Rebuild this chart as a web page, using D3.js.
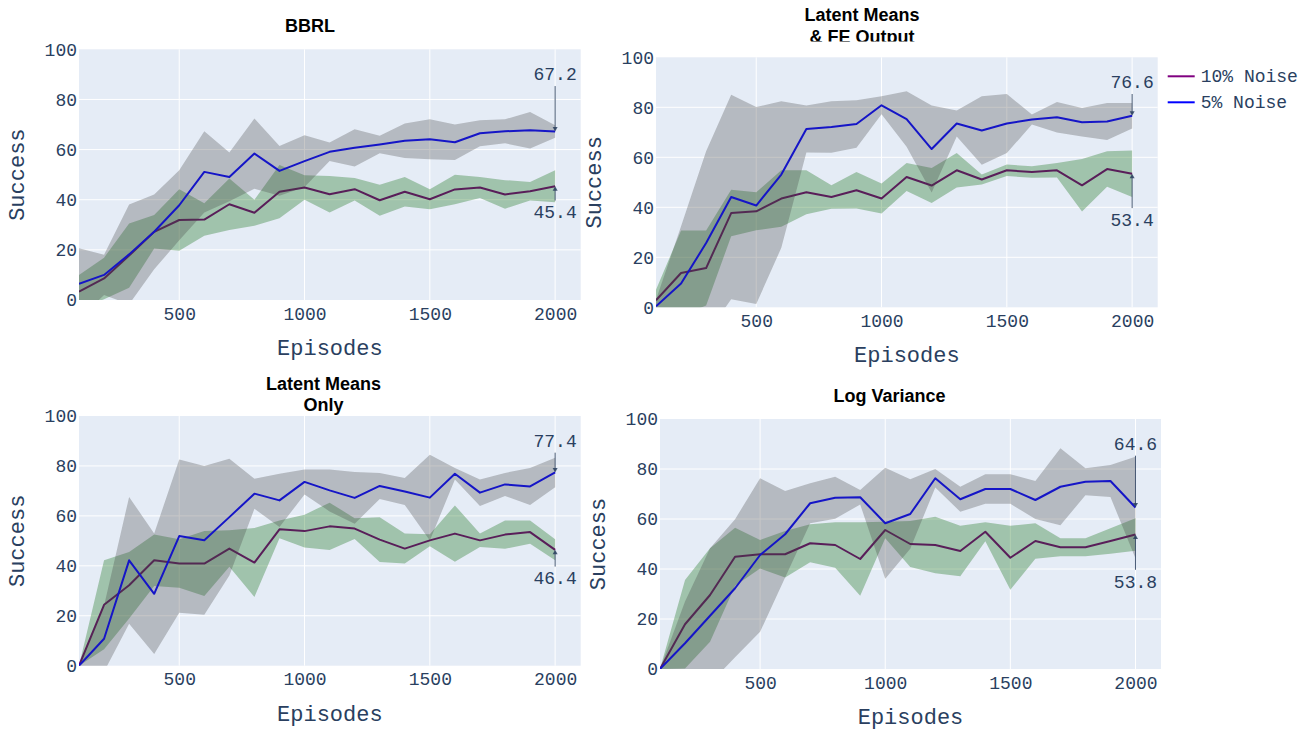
<!DOCTYPE html>
<html>
<head>
<meta charset="utf-8">
<script src="https://cdn.jsdelivr.net/npm/d3@7/dist/d3.min.js"></script>
<style>
  body { margin: 0; background: #fff; }
  svg { display: block; }
</style>
</head>
<body>
<svg id="chart" width="1313" height="731"></svg>
<script>
// episodes on the x axis, one point every 100
const episodes = [100, 200, 300, 400, 500, 600, 700, 800, 900, 1000, 1100, 1200, 1300, 1400, 1500, 1600, 1700, 1800, 1900, 2000];
const yTicks = [0, 20, 40, 60, 80, 100];
const xTicks = [500, 1000, 1500, 2000];
const seriesNames = ['10% Noise', '5% Noise'];

// BBRL
const bbrl10 = [3.3, 8.6, 17.7, 27.2, 31.9, 32.1, 38.2, 34.8, 43.2, 44.9, 42.2, 44.2, 39.8, 43.2, 40.2, 44.1, 44.9, 42.1, 43.4, 45.4];
const bbrl10Lo = [-3.4, 0.3, 4.9, 20.5, 19.6, 25.6, 27.9, 29.6, 32.6, 40.0, 34.9, 39.7, 33.6, 37.3, 36.2, 38.2, 40.7, 36.4, 39.7, 39.0];
const bbrl10Hi = [10.0, 16.9, 30.5, 33.9, 44.2, 38.6, 48.5, 40.0, 53.8, 49.8, 49.5, 48.7, 46.0, 49.1, 44.2, 50.0, 49.1, 47.8, 47.1, 51.8];
const bbrl5 = [6.5, 10.0, 18.2, 27.2, 37.8, 51.1, 49.1, 58.4, 51.5, 55.4, 59.1, 60.7, 62.0, 63.5, 64.1, 62.9, 66.5, 67.3, 67.7, 67.2];
const bbrl5Lo = [-7.6, 2.0, -1.7, 12.3, 23.8, 34.9, 39.4, 44.4, 41.6, 45.1, 55.4, 53.3, 58.5, 56.6, 56.1, 55.8, 61.3, 62.5, 60.4, 64.7];
const bbrl5Hi = [20.6, 18.0, 38.1, 42.1, 51.8, 67.3, 58.8, 72.4, 61.4, 65.7, 62.8, 68.1, 65.5, 70.4, 72.1, 70.0, 71.7, 72.1, 75.0, 69.7];

// Latent Means & FE Output
const meansFe10 = [2.8, 13.7, 15.7, 37.7, 38.4, 43.5, 46.0, 44.1, 46.8, 43.5, 52.1, 48.7, 54.8, 51.1, 54.8, 54.1, 54.8, 48.8, 55.3, 53.4];
const meansFe10Lo = [-1.4, -3.3, 0.7, 28.4, 30.8, 32.2, 37.2, 39.4, 39.5, 37.5, 46.5, 41.7, 47.9, 49.1, 52.5, 51.8, 51.9, 38.3, 48.2, 44.1];
const meansFe10Hi = [7.0, 30.7, 30.7, 47.0, 46.0, 54.8, 54.8, 48.8, 54.1, 49.5, 57.7, 55.7, 61.7, 53.1, 57.1, 56.4, 57.7, 59.3, 62.4, 62.7];
const meansFe5 = [0.4, 9.5, 25.7, 44.1, 40.7, 53.1, 71.3, 72.1, 73.3, 80.8, 75.3, 63.3, 73.5, 70.7, 73.5, 75.1, 76.0, 74.0, 74.3, 76.6];
const meansFe5Lo = [-2.2, -13.4, -11.0, 3.2, 1.3, 23.8, 61.9, 61.8, 63.8, 77.2, 64.2, 45.9, 68.3, 57.0, 61.7, 73.1, 69.9, 68.3, 66.9, 71.5];
const meansFe5Hi = [3.0, 32.4, 62.4, 85.0, 80.1, 82.4, 80.7, 82.4, 82.8, 84.4, 86.4, 80.7, 78.7, 84.4, 85.3, 77.1, 82.1, 79.7, 81.7, 81.7];

// Latent Means Only
const meansOnly10 = [0, 24.4, 32.2, 42.2, 40.9, 40.9, 46.9, 41.3, 54.6, 53.9, 55.8, 54.9, 50.5, 46.9, 50.2, 52.9, 50.2, 52.5, 53.5, 46.4];
const meansOnly10Lo = [0, 6.6, 18.9, 31.9, 31.2, 27.9, 39.6, 27.5, 51.0, 47.3, 46.3, 50.7, 41.5, 40.9, 47.8, 41.6, 47.5, 46.8, 48.8, 42.2];
const meansOnly10Hi = [0, 42.2, 45.5, 52.5, 50.6, 53.9, 54.2, 55.1, 58.2, 60.5, 65.3, 59.1, 59.5, 52.9, 52.6, 64.2, 52.9, 58.2, 58.2, 50.6];
const meansOnly5 = [0, 10.8, 42.2, 28.8, 51.9, 50.2, 59.5, 68.9, 66.2, 73.6, 70.2, 67.2, 72.0, 69.8, 67.3, 76.9, 69.3, 72.6, 71.8, 77.4];
const meansOnly5Lo = [0, -2.4, 16.8, 4.7, 21.2, 20.4, 36.1, 62.9, 55.5, 68.6, 61.8, 56.8, 66.8, 64.4, 50.1, 74.6, 64.0, 68.0, 64.4, 71.5];
const meansOnly5Hi = [0, 24.0, 67.6, 52.9, 82.6, 80.0, 82.9, 74.9, 76.9, 78.6, 78.6, 77.6, 77.2, 75.2, 84.5, 79.2, 74.6, 77.2, 79.2, 83.3];

// Log Variance
const logVar10 = [0, 17.9, 29.6, 44.9, 45.9, 45.9, 50.3, 49.6, 44.0, 55.6, 50.0, 49.6, 47.2, 54.9, 44.5, 51.2, 48.7, 48.7, 51.2, 53.8];
const logVar10Lo = [0, 0.2, 10.9, 33.3, 40.2, 36.6, 42.7, 40.5, 29.3, 52.3, 40.8, 38.3, 37.1, 51.1, 31.7, 44.1, 45.1, 45.1, 46.1, 47.3];
const logVar10Hi = [0, 35.6, 48.3, 56.5, 51.6, 55.2, 57.9, 58.7, 58.7, 58.9, 59.2, 60.9, 57.3, 58.7, 57.3, 58.3, 52.3, 52.3, 56.3, 60.3];
const logVar5 = [0, 10.3, 21.3, 32.3, 45.6, 53.9, 66.3, 68.5, 68.7, 58.3, 62.0, 76.3, 67.9, 72.0, 72.0, 67.6, 72.9, 74.9, 75.2, 64.6];
const logVar5Lo = [0, -6.4, -5.7, 4.7, 14.9, 36.6, 58.3, 60.1, 65.8, 36.1, 48.1, 72.6, 62.9, 66.1, 66.1, 60.0, 57.5, 69.5, 68.8, 44.3];
const logVar5Hi = [0, 27.0, 48.3, 59.9, 76.3, 71.2, 74.3, 76.9, 71.6, 80.5, 75.9, 80.0, 72.9, 77.9, 77.9, 75.2, 88.3, 80.3, 81.6, 84.9];

const TICK_FONT = '"Liberation Mono", "Courier New", monospace';
const TITLE_FONT = '"Liberation Sans", Arial, sans-serif';
const INK = '#2a3f5f';
const LINE_COLOR = ['purple', 'blue'];
const BAND_COLOR = ['rgba(0,100,0,0.3)', 'rgba(68,68,68,0.3)'];

const panels = [
  { id: 'p1', title: ['BBRL'], titleX: 310, titleY: 25, box: [79, 49.3, 580.7, 300],
    series: [[bbrl10, bbrl10Lo, bbrl10Hi], [bbrl5, bbrl5Lo, bbrl5Hi]] },
  { id: 'p2', title: ['Latent Means', '& FE Output'], titleX: 862, titleY: 14.7, titleClip: 41.5, box: [656, 57.3, 1157.7, 307.3], legend: true,
    series: [[meansFe10, meansFe10Lo, meansFe10Hi], [meansFe5, meansFe5Lo, meansFe5Hi]] },
  { id: 'p3', title: ['Latent Means', 'Only'], titleX: 323.5, titleY: 383.3, box: [79, 416, 580.7, 665.7],
    series: [[meansOnly10, meansOnly10Lo, meansOnly10Hi], [meansOnly5, meansOnly5Lo, meansOnly5Hi]] },
  { id: 'p4', title: ['Log Variance'], titleX: 889.5, titleY: 395, box: [660, 419, 1161, 669],
    series: [[logVar10, logVar10Lo, logVar10Hi], [logVar5, logVar5Lo, logVar5Hi]] },
];

const svg = d3.select('#chart');
const defs = svg.append('defs');

function drawPanel(p) {
  const [x0, y0, x1, y1] = p.box;
  const x = d3.scaleLinear().domain([100, 2102]).range([x0, x1]);
  const y = d3.scaleLinear().domain([0, 100]).range([y1, y0]);
  const g = svg.append('g').attr('class', p.id);

  defs.append('clipPath').attr('id', `clip-${p.id}`)
    .append('rect').attr('x', x0).attr('y', y0).attr('width', x1 - x0).attr('height', y1 - y0);

  g.append('rect').attr('x', x0).attr('y', y0).attr('width', x1 - x0).attr('height', y1 - y0).attr('fill', '#e5ecf6');

  const grid = g.append('g').attr('class', 'grid');
  grid.selectAll('line.gx').data(xTicks).join('line').attr('class', 'gx')
    .attr('x1', d => x(d)).attr('x2', d => x(d)).attr('y1', y0).attr('y2', y1)
    .attr('stroke', '#fff').attr('stroke-width', 1);
  grid.selectAll('line.gy').data(yTicks.slice(1, -1)).join('line').attr('class', 'gy')
    .attr('x1', x0).attr('x2', x1).attr('y1', d => y(d)).attr('y2', d => y(d))
    .attr('stroke', '#fff').attr('stroke-width', 1);

  const plot = g.append('g').attr('clip-path', `url(#clip-${p.id})`);
  const line = d3.line().x((d, i) => x(episodes[i])).y(d => y(d));
  const area = d3.area().x((d, i) => x(episodes[i])).y0(d => y(d[0])).y1(d => y(d[1]));

  p.series.forEach(([mean, lo, hi], k) => {
    plot.append('path').attr('d', line(mean)).attr('fill', 'none')
      .attr('stroke', LINE_COLOR[k]).attr('stroke-width', 2).attr('stroke-linejoin', 'round');
    plot.append('path').attr('d', area(lo.map((v, i) => [v, hi[i]])))
      .attr('fill', BAND_COLOR[k]).attr('stroke', 'none');
  });

  // axes
  const yAxis = g.append('g').attr('transform', `translate(${x0},0)`)
    .call(d3.axisLeft(y).tickValues(yTicks).tickSize(0).tickPadding(2));
  const xAxis = g.append('g').attr('transform', `translate(0,${y1})`)
    .call(d3.axisBottom(x).tickValues(xTicks).tickSize(0).tickPadding(7).tickFormat(d3.format('d')));
  for (const a of [yAxis, xAxis]) {
    a.select('.domain').remove();
    a.selectAll('text').attr('fill', INK).style('font-family', TICK_FONT).style('font-size', '18px');
  }

  g.append('text').attr('x', (x0 + x1) / 2).attr('y', y1 + 55).attr('text-anchor', 'middle')
    .attr('fill', INK).style('font-family', TICK_FONT).style('font-size', '22px').text('Episodes');
  g.append('text').attr('transform', `translate(${x0 - 55.5},${(y0 + y1) / 2}) rotate(-90)`).attr('text-anchor', 'middle')
    .attr('fill', INK).style('font-family', TICK_FONT).style('font-size', '22px').text('Success');

  // title
  const tg = g.append('g');
  if (p.titleClip) {
    defs.append('clipPath').attr('id', `tclip-${p.id}`)
      .append('rect').attr('x', 0).attr('y', 0).attr('width', 1313).attr('height', p.titleClip);
    tg.attr('clip-path', `url(#tclip-${p.id})`);
  }
  tg.selectAll('text').data(p.title).join('text')
    .attr('x', p.titleX).attr('y', (d, i) => p.titleY + 6.5 + i * 21.6).attr('text-anchor', 'middle')
    .attr('fill', '#000').style('font-family', TITLE_FONT).style('font-weight', 'bold').style('font-size', '18px')
    .text(d => d);

  // end-value annotations with arrows
  const last = p.series.map(s => s[0][s[0].length - 1]);
  const top = d3.maxIndex(last);
  last.forEach((v, k) => {
    const isTop = k === top;
    const tx = x(2000);
    const ty = y(isTop ? 90 : 35);
    const py = y(v);
    const startY = ty + (isTop ? 11.7 : -11.7);
    const dir = Math.sign(py - startY);
    g.append('line').attr('x1', tx).attr('x2', tx).attr('y1', startY).attr('y2', py - dir * 2)
      .attr('stroke', INK).attr('stroke-width', 1).attr('opacity', 0.85);
    g.append('path').attr('d', `M${tx},${py} L${tx - 2.5},${py - dir * 4.5} L${tx + 2.5},${py - dir * 4.5} Z`)
      .attr('fill', INK).attr('opacity', 0.85);
    g.append('text').attr('x', tx).attr('y', ty + 6).attr('text-anchor', 'middle')
      .attr('fill', INK).style('font-family', TICK_FONT).style('font-size', '18px').text(v.toFixed(1));
  });

  if (p.legend) {
    const lg = g.append('g').attr('class', 'legend');
    const item = lg.selectAll('g').data(seriesNames).join('g')
      .attr('transform', (d, i) => `translate(${x1 + 10},${y0 + 19 + i * 26})`);
    item.append('line').attr('x1', 0).attr('x2', 27).attr('y1', 0).attr('y2', 0)
      .attr('stroke', (d, i) => LINE_COLOR[i]).attr('stroke-width', 2);
    item.append('text').attr('x', 33).attr('y', 6).attr('fill', INK)
      .style('font-family', TICK_FONT).style('font-size', '18px').text(d => d);
  }
}

panels.forEach(drawPanel);
</script>
</body>
</html>
